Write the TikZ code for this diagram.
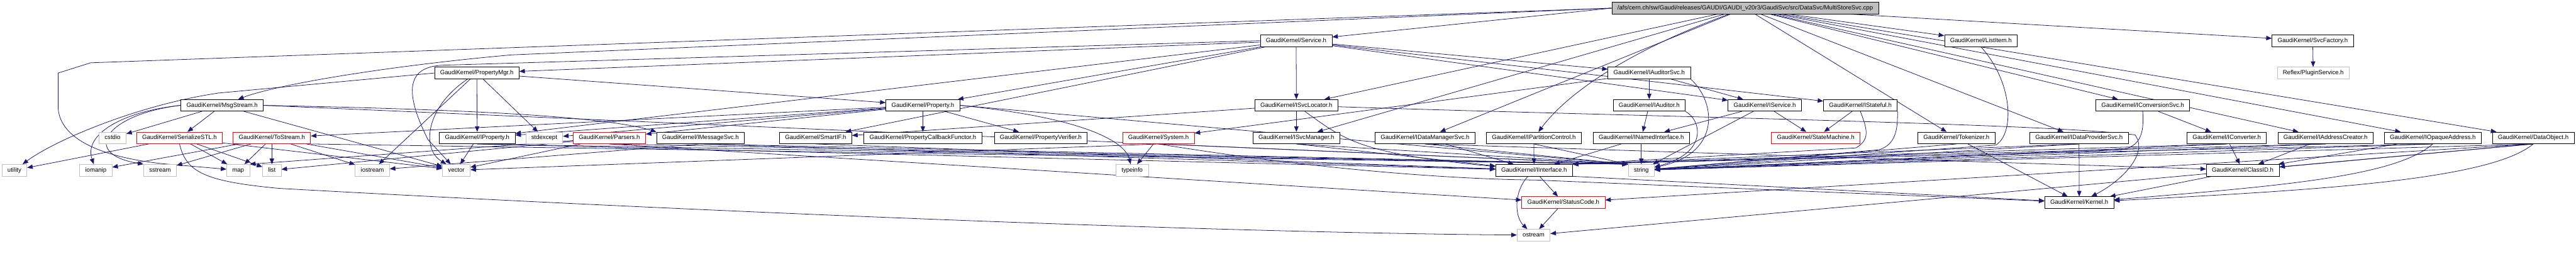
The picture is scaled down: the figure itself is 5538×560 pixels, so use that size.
\documentclass[tikz,border=0pt]{standalone}
\usepackage{fontspec}
\setmainfont{Liberation Sans}
\usepackage{xcolor}
\usepackage{tikz}
\usetikzlibrary{arrows.meta, backgrounds}

\definecolor{azulflecha}{RGB}{25,25,112}
\definecolor{grisnodo}{RGB}{191,191,191}

\begin{document}
\begin{tikzpicture}[
    x=0.1mm, y=-0.1mm,
    font=\fontsize{3.7}{4.4}\selectfont,
    cabecera/.style={draw, fill=white, line width=0.3pt, minimum height=2.5mm,
                     inner xsep=1.2mm, inner ysep=0pt,
                     text height=2.7pt, text depth=0.75pt},
    externa/.style={cabecera, draw=grisnodo},
    truncada/.style={cabecera, draw=red},
    raiz/.style={cabecera, fill=grisnodo},
    incluye/.style={draw=azulflecha, line width=0.3pt,
                    -{Triangle[length=1.2mm, width=0.95mm]}}
  ]
  \useasboundingbox (0,0) rectangle (5538,560);

  % --- Fila 0: fichero de origen ---
  \node[raiz] (root) at (3752,17.5)
    {/afs/cern.ch/sw/Gaudi/releases/GAUDI/GAUDI\_v20r3/GaudiSvc/src/DataSvc/MultiStoreSvc.cpp};

  % --- Fila 1 ---
  \node[cabecera] (svc) at (2786.5,87.5) {GaudiKernel/Service.h};
  \node[cabecera] (listitem) at (4258.5,87.5) {GaudiKernel/ListItem.h};
  \node[cabecera] (svcfac) at (4972,87.5) {GaudiKernel/SvcFactory.h};

  % --- Fila 2 ---
  \node[cabecera] (propmgr) at (1025,157) {GaudiKernel/PropertyMgr.h};
  \node[cabecera] (iaudsvc) at (3545.5,157) {GaudiKernel/IAuditorSvc.h};
  \node[externa] (plugin) at (4973,157) {Reflex/PluginService.h};

  % --- Fila 3 ---
  \node[cabecera] (msg) at (477.5,226.5) {GaudiKernel/MsgStream.h};
  \node[cabecera] (prop) at (1984,226.5) {GaudiKernel/Property.h};
  \node[cabecera] (isvcloc) at (2787,226.5) {GaudiKernel/ISvcLocator.h};
  \node[cabecera] (iaud) at (3545.5,226.5) {GaudiKernel/IAuditor.h};
  \node[cabecera] (iservice) at (3794,226.5) {GaudiKernel/IService.h};
  \node[cabecera] (istateful) at (3999.5,226.5) {GaudiKernel/IStateful.h};
  \node[cabecera] (iconvsvc) at (4606.5,226.5) {GaudiKernel/IConversionSvc.h};

  % --- Fila 4 ---
  \node[externa] (cstdio) at (242,296.5) {cstdio};
  \node[truncada] (serial) at (386,296.5) {GaudiKernel/SerializeSTL.h};
  \node[truncada] (tostream) at (584.5,296.5) {GaudiKernel/ToStream.h};
  \node[cabecera] (iprop) at (1026,296.5) {GaudiKernel/IProperty.h};
  \node[externa] (stdexcept) at (1170,296.5) {stdexcept};
  \node[truncada] (parsers) at (1310,296.5) {GaudiKernel/Parsers.h};
  \node[cabecera] (imsgsvc) at (1506,296.5) {GaudiKernel/IMessageSvc.h};
  \node[cabecera] (smartif) at (1753.5,296.5) {GaudiKernel/SmartIF.h};
  \node[cabecera] (pcbf) at (1984,296.5) {GaudiKernel/PropertyCallbackFunctor.h};
  \node[cabecera] (pverif) at (2237.5,296.5) {GaudiKernel/PropertyVerifier.h};
  \node[truncada] (system) at (2490.5,296.5) {GaudiKernel/System.h};
  \node[cabecera] (isvcmgr) at (2787,296.5) {GaudiKernel/ISvcManager.h};
  \node[cabecera] (idatamgr) at (3063.5,296.5) {GaudiKernel/IDataManagerSvc.h};
  \node[cabecera] (ipartctl) at (3297.5,296.5) {GaudiKernel/IPartitionControl.h};
  \node[cabecera] (inamed) at (3528.5,296.5) {GaudiKernel/INamedInterface.h};
  \node[truncada] (statemach) at (3903.5,296.5) {GaudiKernel/StateMachine.h};
  \node[cabecera] (tokenizer) at (4206,296.5) {GaudiKernel/Tokenizer.h};
  \node[cabecera] (idataprov) at (4469.5,296.5) {GaudiKernel/IDataProviderSvc.h};
  \node[cabecera] (iconv) at (4787,296.5) {GaudiKernel/IConverter.h};
  \node[cabecera] (iaddrcr) at (4999.5,296.5) {GaudiKernel/IAddressCreator.h};
  \node[cabecera] (iopaque) at (5230,296.5) {GaudiKernel/IOpaqueAddress.h};
  \node[cabecera] (dataobj) at (5446,296.5) {GaudiKernel/DataObject.h};

  % --- Fila 5 ---
  \node[externa] (utility) at (31,366) {utility};
  \node[externa] (iomanip) at (206,366) {iomanip};
  \node[externa] (sstream) at (344,366) {sstream};
  \node[externa] (map) at (512,366) {map};
  \node[externa] (list) at (584.5,366) {list};
  \node[externa] (iostream) at (800.5,366) {iostream};
  \node[externa] (vector) at (981,366) {vector};
  \node[externa] (typeinfo) at (2434,366) {typeinfo};
  \node[cabecera] (iinterface) at (3298,366) {GaudiKernel/IInterface.h};
  \node[externa] (string) at (3528.5,366) {string};
  \node[cabecera] (classid) at (4821.5,366) {GaudiKernel/ClassID.h};

  % --- Filas 6 y 7 ---
  \node[truncada] (statuscode) at (3361,435.5) {GaudiKernel/StatusCode.h};
  \node[cabecera] (kernel) at (4470,435.5) {GaudiKernel/Kernel.h};
  \node[externa] (ostream) at (3297,505.5) {ostream};

  \begin{scope}[on background layer]
  % --- Includes del fichero de origen ---
  \draw[incluye] (root.west) -- (svc);
  \draw[incluye] (root) -- (listitem);
  \draw[incluye] (root) -- (svcfac);
  \draw[incluye] (root.west) -- (195,135) -- (125,157) -- (125,233)
      .. controls (130,300) and (220,338) .. (350,352) -- (map);
  \draw[incluye] (root.west) -- (1100,118) .. controls (850,140) and (600,180) .. (msg);
  \draw[incluye] (root) -- (isvcloc);
  \draw[incluye] (root) -- (isvcmgr);
  \draw[incluye] (root) -- (idatamgr);
  \draw[incluye] (root) .. controls (3500,110) and (3370,200) .. (ipartctl);
  \draw[incluye] (root) -- (tokenizer);
  \draw[incluye] (root) -- (idataprov);
  \draw[incluye] (root) -- (iconvsvc);
  \draw[incluye] (root) -- (iaddrcr);
  \draw[incluye] (root) -- (iopaque);
  \draw[incluye] (root) -- (dataobj);

  % --- Service.h ---
  \draw[incluye] (svc) -- (propmgr);
  \draw[incluye] (svc) -- (prop);
  \draw[incluye] (svc) -- (iprop);
  \draw[incluye] (svc) -- (smartif);
  \draw[incluye] (svc.west) -- (960,140) .. controls (870,140) and (870,200) .. (920,300) -- (vector);
  \draw[incluye] (svc) -- (isvcloc);
  \draw[incluye] (svc) -- (iaudsvc);
  \draw[incluye] (svc) -- (iservice);
  \draw[incluye] (svc) -- (istateful);

  % --- ListItem.h y SvcFactory.h ---
  \draw[incluye] (listitem.south) .. controls (4330,180) and (4330,290) .. (4290,312) -- (string);
  \draw[incluye] (svcfac) -- (plugin);

  % --- PropertyMgr.h ---
  \draw[incluye] (propmgr) -- (iprop);
  \draw[incluye] (propmgr) -- (stdexcept);
  \draw[incluye] (propmgr) -- (prop);
  \draw[incluye] (propmgr) -- (iostream);
  \draw[incluye] (propmgr) .. controls (915,230) and (905,320) .. (vector);
  \draw[incluye] (propmgr.west) -- (470,200) .. controls (300,225) and (120,300) .. (utility);

  % --- IAuditorSvc.h ---
  \draw[incluye] (iaudsvc) -- (iaud);
  \draw[incluye] (iaudsvc) -- (iservice);
  \draw[incluye] (iaudsvc) -- (system);
  \draw[incluye] (iaudsvc.south east) .. controls (3690,220) and (3700,330) .. (string);

  % --- Property.h ---
  \draw[incluye] (prop) -- (pcbf);
  \draw[incluye] (prop) -- (pverif);
  \draw[incluye] (prop) -- (parsers);
  \draw[incluye] (prop) -- (tostream);
  \draw[incluye] (prop) -- (iprop);
  \draw[incluye] (prop) -- (stdexcept);
  \draw[incluye] (prop.east) .. controls (2350,255) and (2420,310) .. (typeinfo);
  \draw[incluye] (prop.east) -- (string.north west);

  % --- MsgStream.h ---
  \draw[incluye] (msg.east) .. controls (1000,235) and (1300,250) .. (imsgsvc.north west);
  \draw[incluye] (msg) -- (serial);
  \draw[incluye] (msg) -- (cstdio);
  \draw[incluye] (msg.west) .. controls (260,240) and (180,290) .. (iomanip);
  \draw[incluye] (msg.west) .. controls (230,245) and (170,330) .. (sstream.north west);
  \draw[incluye] (msg) -- (vector);
  \draw[incluye] (msg.east) -- (string.north west);

  % --- SerializeSTL.h ---
  \draw[incluye] (serial) -- (utility);
  \draw[incluye] (serial) -- (map);
  \draw[incluye] (serial) -- (list);
  \draw[incluye] (serial) -- (vector);
  \draw[incluye] (serial.south) .. controls (400,370) and (440,390) .. (600,405)
      .. controls (1500,455) and (2600,500) .. (ostream);

  % --- ToStream.h ---
  \draw[incluye] (tostream) -- (map);
  \draw[incluye] (tostream) -- (list);
  \draw[incluye] (tostream) -- (iostream);
  \draw[incluye] (tostream) -- (iomanip);
  \draw[incluye] (tostream) -- (sstream);
  \draw[incluye] (tostream) -- (vector);
  \draw[incluye] (tostream.south east) -- (string.north west);

  % --- IProperty.h, Parsers.h, IMessageSvc.h, SmartIF.h ---
  \draw[incluye] (iprop) -- (vector);
  \draw[incluye] (iprop.south) -- (iinterface);
  \draw[incluye] (iprop.south) -- (string.north west);
  \draw[incluye] (parsers) -- (vector);
  \draw[incluye] (parsers) -- (list);
  \draw[incluye] (parsers) -- (map.north east);
  \draw[incluye] (parsers.south) -- (string.north west);
  \draw[incluye] (parsers.south) -- (statuscode);
  \draw[incluye] (imsgsvc.south) -- (iinterface);
  \draw[incluye] (imsgsvc.south) -- (string.north west);
  \draw[incluye] (imsgsvc.south) -- (iostream);
  \draw[incluye] (smartif.south) -- (iinterface);

  % --- System.h ---
  \draw[incluye] (system) -- (typeinfo);
  \draw[incluye] (system.south) -- (string.north west);
  \draw[incluye] (system.south) -- (vector);
  \draw[incluye] (system.south) .. controls (2800,360) and (3100,385) .. (3300,387) -- (kernel);

  % --- ISvcLocator.h y ISvcManager.h ---
  \draw[incluye] (isvcloc) -- (isvcmgr);
  \draw[incluye] (isvcloc) -- (smartif);
  \draw[incluye] (isvcloc) .. controls (2890,300) and (2920,330) .. (iinterface);
  \draw[incluye] (isvcloc) .. controls (3500,250) and (4400,265) .. (4590,290)
      .. controls (4620,330) and (4560,390) .. (kernel);
  \draw[incluye] (isvcmgr.south) -- (iinterface);
  \draw[incluye] (isvcmgr.south) -- (string.north west);

  % --- IDataManagerSvc.h, IPartitionControl.h, INamedInterface.h ---
  \draw[incluye] (idatamgr) -- (iinterface);
  \draw[incluye] (idatamgr.south) -- (string.north west);
  \draw[incluye] (idatamgr.south) -- (classid);
  \draw[incluye] (ipartctl) -- (iinterface);
  \draw[incluye] (ipartctl.south) -- (string.north west);
  \draw[incluye] (inamed) -- (iinterface);
  \draw[incluye] (inamed) -- (string);

  % --- IAuditor.h, IService.h, IStateful.h ---
  \draw[incluye] (iaud) -- (inamed);
  \draw[incluye] (iaud.south east) .. controls (3660,260) and (3670,330) .. (string);
  \draw[incluye] (iservice) -- (statemach);
  \draw[incluye] (iservice) -- (inamed);
  \draw[incluye] (iservice) -- (string);
  \draw[incluye] (istateful) -- (statemach);
  \draw[incluye] (istateful.south) .. controls (4015,280) and (4020,300) .. (3990,318)
      -- (iinterface.north east);
  \draw[incluye] (istateful.south east) .. controls (4080,280) and (4075,310) .. (4040,322)
      -- (string);

  % --- Tokenizer.h, IDataProviderSvc.h, IConversionSvc.h ---
  \draw[incluye] (tokenizer) -- (kernel);
  \draw[incluye] (tokenizer.south) -- (string);
  \draw[incluye] (idataprov) -- (kernel);
  \draw[incluye] (idataprov.south) -- (iinterface.north east);
  \draw[incluye] (idataprov.south) -- (string);
  \draw[incluye] (iconvsvc) -- (iconv);
  \draw[incluye] (iconvsvc.south) .. controls (4610,290) and (4600,315) .. (4560,322) -- (string);

  % --- IConverter.h, IAddressCreator.h, IOpaqueAddress.h ---
  \draw[incluye] (iconv) -- (classid);
  \draw[incluye] (iconv.south) -- (iinterface.north east);
  \draw[incluye] (iconv.south) -- (string);
  \draw[incluye] (iaddrcr) -- (classid);
  \draw[incluye] (iaddrcr.south) -- (iinterface.north east);
  \draw[incluye] (iaddrcr.south) -- (string);
  \draw[incluye] (iopaque) -- (classid);
  \draw[incluye] (iopaque.south) .. controls (5150,380) and (4900,400) .. (kernel);
  \draw[incluye] (iopaque.south) -- (iinterface.north east);
  \draw[incluye] (iopaque.south) -- (string);

  % --- DataObject.h ---
  \draw[incluye] (dataobj.south) -- (classid);
  \draw[incluye] (dataobj.south) .. controls (5350,390) and (4950,410) .. (kernel);
  \draw[incluye] (dataobj.south) -- (statuscode);
  \draw[incluye] (dataobj.south) -- (string);
  \draw[incluye] (dataobj.south) -- (ostream);

  % --- ClassID.h, IInterface.h, StatusCode.h ---
  \draw[incluye] (classid) -- (kernel);
  \draw[incluye] (iinterface) -- (statuscode);
  \draw[incluye] (iinterface.225) .. controls (3255,410) and (3255,465) .. (ostream);
  \draw[incluye] (iinterface.south east) -- (kernel);
  \draw[incluye] (statuscode) -- (ostream);
  \end{scope}
\end{tikzpicture}
\end{document}
